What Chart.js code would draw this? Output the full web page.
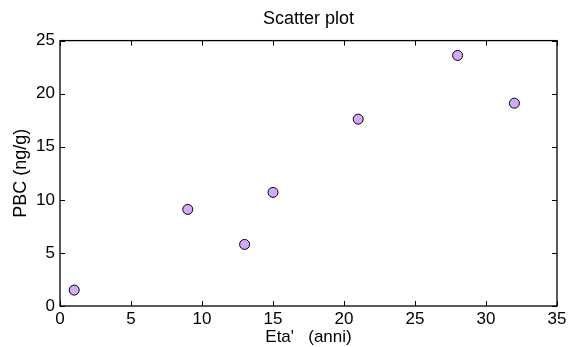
<!DOCTYPE html>
<html>
<head>
<meta charset="utf-8">
<script src="https://cdn.jsdelivr.net/npm/chart.js@4/dist/chart.umd.min.js"></script>
<style>
  html, body { margin: 0; padding: 0; background: #fff; }
  #wrap { width: 581px; height: 347px; }
</style>
</head>
<body>
<div id="wrap"><canvas id="c"></canvas></div>
<script>
// data
const ages = [1, 9, 13, 15, 21, 28, 32];
const pbc = [1.5, 9.1, 5.8, 10.7, 17.6, 23.6, 19.1];
const xTicks = [0, 5, 10, 15, 20, 25, 30, 35];
const yTicks = [0, 5, 10, 15, 20, 25];

const FONT = 'Liberation Sans, Arial, Helvetica, sans-serif';

// box round the plot with short inward ticks on all four sides
const boxTicks = {
    id: 'boxTicks',
    beforeDatasetsDraw(chart) {
        const { ctx, chartArea: a, scales: { x, y } } = chart;
        const len = 5;
        ctx.save();
        ctx.strokeStyle = '#000';
        ctx.lineWidth = 1;
        ctx.beginPath();
        xTicks.forEach(v => {
            const px = Math.round(x.getPixelForValue(v)) + 0.5;
            ctx.moveTo(px, a.bottom); ctx.lineTo(px, a.bottom - len);
            ctx.moveTo(px, a.top); ctx.lineTo(px, a.top + len);
        });
        yTicks.forEach(v => {
            const py = Math.round(y.getPixelForValue(v)) + 0.5;
            ctx.moveTo(a.left, py); ctx.lineTo(a.left + len, py);
            ctx.moveTo(a.right, py); ctx.lineTo(a.right - len, py);
        });
        ctx.stroke();
        ctx.lineWidth = 1.3;
        ctx.strokeRect(a.left, a.top, a.right - a.left, a.bottom - a.top);
        ctx.restore();
    }
};

new Chart(document.getElementById('c'), {
    type: 'scatter',
    data: {
        datasets: [{
            data: ages.map((a, i) => ({ x: a, y: pbc[i] })),
            backgroundColor: '#d4a9f7',
            borderColor: '#000',
            borderWidth: 1,
            pointRadius: 5,
            pointHoverRadius: 5
        }]
    },
    options: {
        responsive: true,
        maintainAspectRatio: false,
        animation: false,
        layout: { padding: { left: 0, right: 24, top: 0, bottom: 0 } },
        plugins: {
            legend: { display: false },
            tooltip: { enabled: false },
            title: {
                display: true,
                text: 'Scatter plot',
                color: '#000',
                fullSize: false,
                font: { family: FONT, size: 18, weight: 'normal', lineHeight: 1.2 },
                padding: { top: 8, bottom: 11 }
            }
        },
        scales: {
            x: {
                type: 'linear',
                min: 0, max: 35,
                afterFit(scale) { scale.height = 41; },
                afterBuildTicks(scale) { scale.ticks = xTicks.map(v => ({ value: v })); },
                grid: { display: false, drawTicks: false },
                border: { display: false },
                ticks: { color: '#000', padding: 3, font: { family: FONT, size: 17 } },
                title: {
                    display: true,
                    text: "Eta'   (anni)",
                    color: '#000',
                    font: { family: FONT, size: 17, lineHeight: 1 },
                    padding: { top: 0, bottom: 1 }
                }
            },
            y: {
                type: 'linear',
                min: 0, max: 25,
                afterFit(scale) { scale.width = 60; },
                afterBuildTicks(scale) { scale.ticks = yTicks.map(v => ({ value: v })); },
                grid: { display: false, drawTicks: false },
                border: { display: false },
                ticks: { color: '#000', padding: 5, font: { family: FONT, size: 17 } },
                title: {
                    display: true,
                    text: 'PBC (ng/g)',
                    color: '#000',
                    font: { family: FONT, size: 18, lineHeight: 1 },
                    padding: { top: 12, bottom: 0 }
                }
            }
        }
    },
    plugins: [boxTicks]
});
</script>
</body>
</html>
